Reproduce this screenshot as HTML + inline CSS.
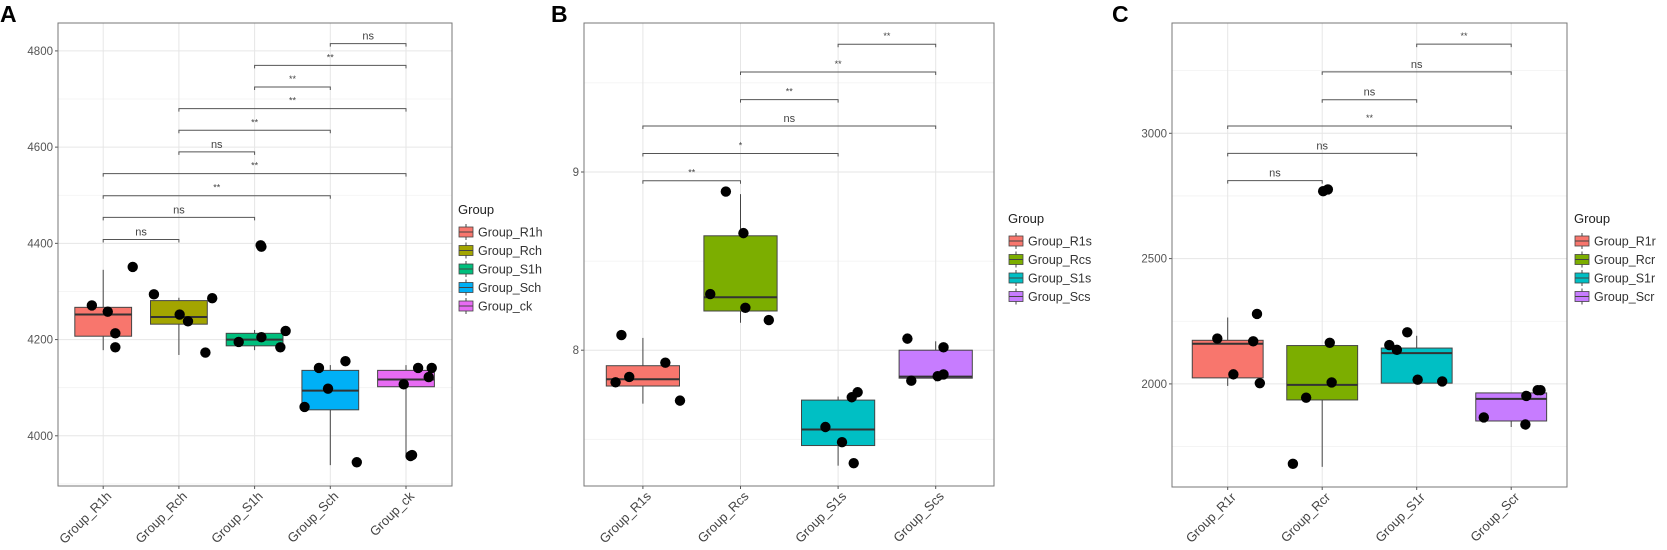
<!DOCTYPE html>
<html><head><meta charset="utf-8"><style>
body{margin:0;background:#fff;}
svg{display:block;font-family:"Liberation Sans",Arial,sans-serif;}
</style></head><body>
<svg id="fig" width="1667" height="550" viewBox="0 0 1667 550"></svg>
<script>
// ---------- Panel A data ----------
const catsA = ["Group_R1h","Group_Rch","Group_S1h","Group_Sch","Group_ck"];
const colorsA = ["#F8766D","#A3A500","#00BF7D","#00B0F6","#E76BF3"];
const q1A = [4207,4232,4187,4054,4102];
const medA = [4252,4247,4200,4094,4117];
const q3A = [4267,4281,4213,4136,4136];
const wloA = [4178,4168,4178,3939,3958];
const whiA = [4345,4287,4220,4147,4147];
const ptsA = [[4271,4258,4213,4184,4351],[4294,4286,4252,4238,4173],[4396,4393,4218,4205,4195,4184],[4141,4155,4098,4060,3945],[4141,4141,4122,4107,3958,3960]];
const jitA = [[-0.15,0.06,0.16,0.16,0.39],[-0.33,0.44,0.01,0.12,0.35],[0.08,0.09,0.41,0.09,-0.21,0.34],[-0.15,0.2,-0.03,-0.34,0.35],[0.16,0.34,0.3,-0.03,0.06,0.08]];
const brA = [[0,1,4408,"ns"],[0,2,4454,"ns"],[0,3,4499,"**"],[0,4,4545,"**"],[1,2,4590,"ns"],[1,3,4635,"**"],[1,4,4680,"**"],[2,3,4725,"**"],[2,4,4770,"**"],[3,4,4815,"ns"]];
const ticksA = [4000,4200,4400,4600,4800];
const minorA = [3900,4100,4300,4500,4700];
// ---------- Panel B data ----------
const catsB = ["Group_R1s","Group_Rcs","Group_S1s","Group_Scs"];
const colorsB = ["#F8766D","#7CAE00","#00BFC4","#C77CFF"];
const q1B = [7.799,8.22,7.465,7.843];
const medB = [7.837,8.297,7.555,7.852];
const q3B = [7.913,8.642,7.72,8.0];
const wloB = [7.70,8.154,7.352,7.825];
const whiB = [8.069,8.876,7.74,8.05];
const ptsB = [[8.085,7.93,7.85,7.82,7.717],[8.89,8.657,8.315,8.238,8.169],[7.764,7.736,7.569,7.484,7.366],[8.065,8.016,7.864,7.854,7.829]];
const jitB = [[-0.22,0.23,-0.14,-0.28,0.38],[-0.15,0.03,-0.31,0.05,0.29],[0.2,0.14,-0.13,0.04,0.16],[-0.29,0.08,0.08,0.02,-0.25]];
const brB = [[0,1,8.951,"**"],[0,2,9.104,"*"],[0,3,9.258,"ns"],[1,2,9.406,"**"],[1,3,9.561,"**"],[2,3,9.717,"**"]];
const ticksB = [8,9];
const minorB = [7.5,8.5,9.5];
// ---------- Panel C data ----------
const catsC = ["Group_R1r","Group_Rcr","Group_S1r","Group_Scr"];
const colorsC = ["#F8766D","#7CAE00","#00BFC4","#C77CFF"];
const q1C = [2024,1936,2003,1852];
const medC = [2160,1996,2123,1940];
const q3C = [2174,2153,2143,1964];
const wloC = [1992,1669,2003,1828];
const whiC = [2265,2153,2192,1964];
const ptsC = [[2279,2181,2170,2038,2003],[2769,2776,2164,2006,1945,1681],[2206,2155,2136,2017,2010],[1975,1975,1952,1866,1838]];
const jitC = [[0.31,-0.11,0.27,0.06,0.34],[0.01,0.06,0.08,0.1,-0.17,-0.31],[-0.1,-0.29,-0.21,0.01,0.27],[0.28,0.31,0.16,-0.29,0.15]];
const brC = [[0,1,2811,"ns"],[0,2,2920,"ns"],[0,3,3029,"**"],[1,2,3134,"ns"],[1,3,3245,"ns"],[2,3,3356,"**"]];
const ticksC = [2000,2500,3000];
const minorC = [1750,2250,2750,3250];

const NS="http://www.w3.org/2000/svg";
const svg=document.getElementById('fig');
function mk(tag,attrs,parent,txt){const e=document.createElementNS(NS,tag);for(const k in attrs)e.setAttribute(k,attrs[k]);if(txt!==undefined)e.textContent=txt;(parent||svg).appendChild(e);return e;}

function panel(P){
  const g=mk('g',{});
  
  
  const lab=mk('text',{x:P.labX,y:22,'font-size':23,'font-weight':'bold',fill:'#000'},g,P.id);
  
  
  const y=v=>P.y0+(v-P.v0)*(P.y1-P.y0)/(P.v1-P.v0);
  const x=i=>P.cx0+i*P.step;
  const bw=P.step*0.75;
  P.minor.forEach(v=>{const yy=y(v);if(yy>P.top&&yy<P.bot){const l=mk('line',{x1:P.left,x2:P.right,y1:yy,y2:yy,stroke:'#f2f2f2','stroke-width':0.8},g);}});
  P.ticks.forEach(v=>{const yy=y(v);const l=mk('line',{x1:P.left,x2:P.right,y1:yy,y2:yy,stroke:'#e6e6e6','stroke-width':1},g);
    const tk=mk('line',{x1:P.left-3,x2:P.left,y1:yy,y2:yy,stroke:'#555'},g);
    const t=mk('text',{x:P.left-5,y:yy+4,'font-size':11.5,fill:'#555','text-anchor':'end'},g,String(v));});
  P.cats.forEach((c,i)=>{const l=mk('line',{x1:x(i),x2:x(i),y1:P.top,y2:P.bot,stroke:'#e6e6e6','stroke-width':1},g);});
  P.cats.forEach((c,i)=>{
    const cx=x(i);
    const wh=mk('line',{x1:cx,x2:cx,y1:y(P.whi[i]),y2:y(P.wlo[i]),stroke:'#444','stroke-width':1},g);
    
    const r=mk('rect',{x:cx-bw/2,y:y(P.q3[i]),width:bw,height:y(P.q1[i])-y(P.q3[i]),fill:P.colors[i],stroke:'#444','stroke-width':1},g);
    
    const m=mk('line',{x1:cx-bw/2,x2:cx+bw/2,y1:y(P.med[i]),y2:y(P.med[i]),stroke:'#333','stroke-width':2},g);
    
  });
  P.cats.forEach((c,i)=>{P.pts[i].forEach((v,j)=>{
    const p=mk('circle',{cx:x(i)+P.jit[i][j]*P.step,cy:y(v),r:5.2,fill:'#000'},g);
    
  });});
  P.br.forEach(b=>{
    const yy=y(b[2]),xa=x(b[0]),xb=x(b[1]);
    const pth=mk('path',{d:`M${xa},${yy+3}V${yy}H${xb}V${yy+3}`,fill:'none',stroke:'#555','stroke-width':1},g);
    
    const t=mk('text',{x:(xa+xb)/2,y:b[3]==='ns'?yy-4:yy-5,'font-size':b[3]==='ns'?11:9,fill:'#444','text-anchor':'middle'},g,b[3]);
    
  });
  const f=mk('rect',{x:P.left,y:P.top,width:P.right-P.left,height:P.bot-P.top,fill:'none',stroke:'#777','stroke-width':1},g);
  
  P.cats.forEach((c,i)=>{
    const tk=mk('line',{x1:x(i),x2:x(i),y1:P.bot,y2:P.bot+3,stroke:'#555'},g);
    const ax=x(i)+9, ay=P.bot+11;
    const t=mk('text',{x:ax,y:ay,'font-size':13,fill:'#444','text-anchor':'end',transform:`rotate(-45 ${ax} ${ay})`},g,c);
    
  });
  const lg=mk('g',{},g);
  const lt=mk('text',{x:P.legX,y:P.legY,'font-size':13,fill:'#222'},lg,'Group');
  P.cats.forEach((c,i)=>{
    const cy=P.legY+18+i*18.5;
    const e=mk('g',{},lg);
    mk('line',{x1:P.legX+8,x2:P.legX+8,y1:cy-8,y2:cy+8,stroke:'#444'},e);
    mk('rect',{x:P.legX+1,y:cy-5,width:14,height:10,fill:P.colors[i],stroke:'#444','stroke-width':0.8},e);
    mk('line',{x1:P.legX+1,x2:P.legX+15,y1:cy,y2:cy,stroke:'#444'},e);
    mk('text',{x:P.legX+20,y:cy+4.5,'font-size':12.5,fill:'#333'},e,c);
  });
}
panel({id:'A',labX:0,cats:catsA,colors:colorsA,q1:q1A,med:medA,q3:q3A,wlo:wloA,whi:whiA,pts:ptsA,jit:jitA,br:brA,ticks:ticksA,minor:minorA,
  v0:4000,y0:435.8,v1:4800,y1:50.9,cx0:103.2,step:75.7,left:58,right:452,top:23,bot:486,legX:458,legY:214});
panel({id:'B',labX:551,cats:catsB,colors:colorsB,q1:q1B,med:medB,q3:q3B,wlo:wloB,whi:whiB,pts:ptsB,jit:jitB,br:brB,ticks:ticksB,minor:minorB,
  v0:8,y0:350.2,v1:9,y1:172,cx0:642.9,step:97.6,left:584,right:994,top:23,bot:486,legX:1008,legY:223});
panel({id:'C',labX:1112,cats:catsC,colors:colorsC,q1:q1C,med:medC,q3:q3C,wlo:wloC,whi:whiC,pts:ptsC,jit:jitC,br:brC,ticks:ticksC,minor:minorC,
  v0:2000,y0:383.9,v1:3000,y1:133.3,cx0:1227.7,step:94.5,left:1172,right:1567,top:23,bot:487,legX:1574,legY:223});
</script>
</body></html>
